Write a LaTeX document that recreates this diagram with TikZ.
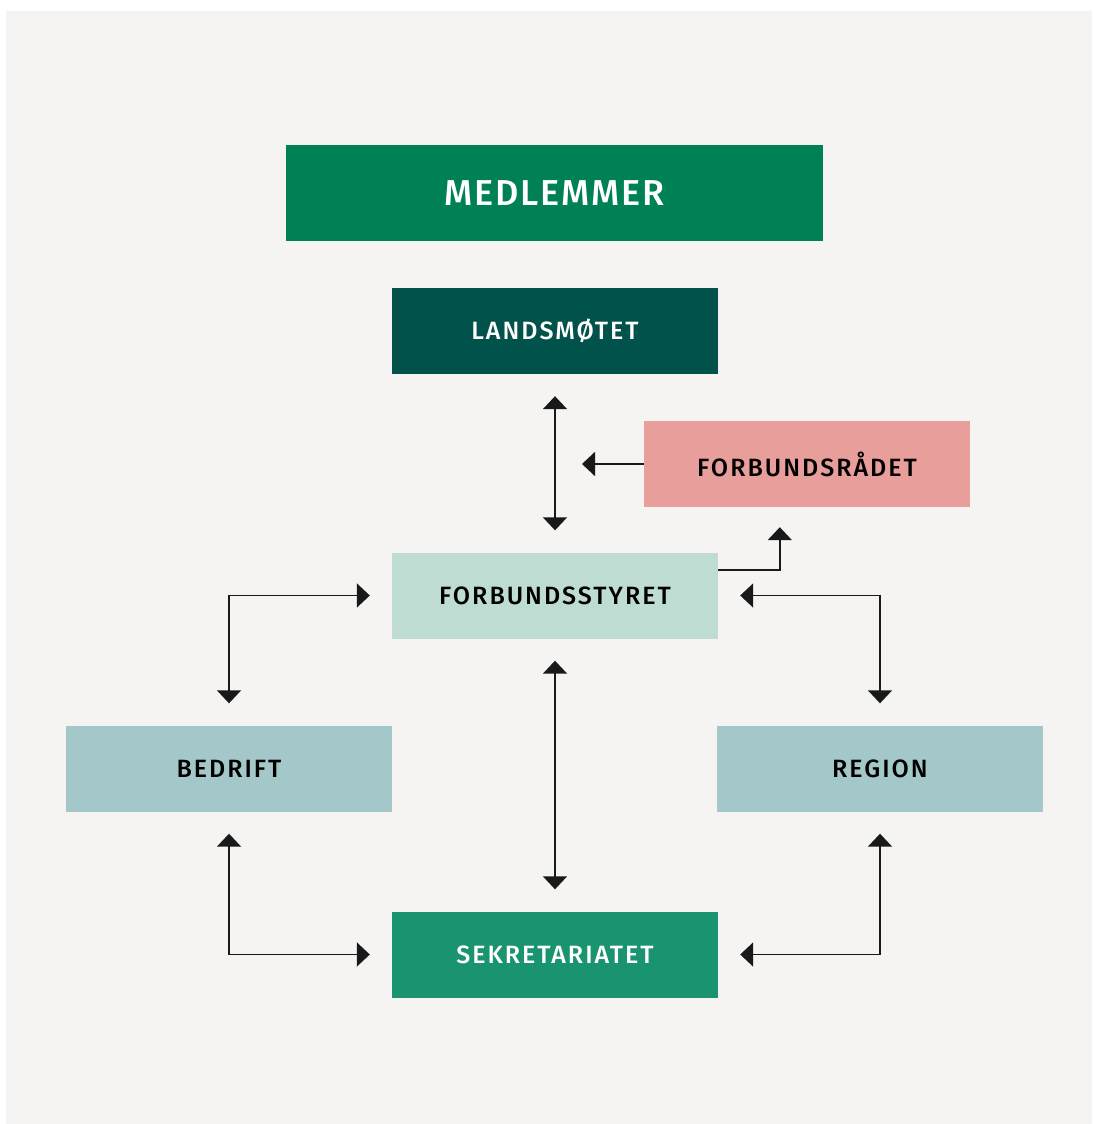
\documentclass[tikz,border=0pt]{standalone}
\usepackage{fontspec}
\setmainfont{Fira Sans Medium}[LetterSpace=8]
\usetikzlibrary{arrows.meta,calc}
\definecolor{bgcol}{HTML}{F5F4F2}
\definecolor{medcol}{HTML}{008055}
\definecolor{lancol}{HTML}{00524A}
\definecolor{radcol}{HTML}{E89F9B}
\definecolor{stycol}{HTML}{BEDCD2}
\definecolor{orgcol}{HTML}{A4C8C9}
\definecolor{sekcol}{HTML}{1A9470}
\begin{document}
\begin{tikzpicture}[x=1pt, y=-1pt,
  box/.style={minimum width=326pt, minimum height=86pt, inner sep=0pt, font=\fontsize{25}{30}\selectfont},
  arr/.style={line width=1.8pt, draw=black!90, {Triangle[width=24pt,length=13pt]}-{Triangle[width=24pt,length=13pt]}, shorten <=22pt, shorten >=22pt},
  one/.style={line width=1.8pt, draw=black!90, -{Triangle[width=24pt,length=13pt]}}]
\useasboundingbox (0,0) rectangle (1092,1124);
\fill[bgcol] (6,11) rectangle (1092,1124);
\node[box, fill=medcol, text=white, minimum width=537pt, minimum height=96pt, font=\fontsize{36}{42}\selectfont\addfontfeatures{LetterSpace=5}] (med) at (554.5,193){MEDLEMMER};
\node[box, fill=lancol, text=white] (lan) at (555,331){LANDSMØTET};
\node[box, fill=radcol] (rad) at (807,464){FORBUNDSRÅDET};
\node[box, fill=stycol] (sty) at (555,595.5){FORBUNDSSTYRET};
\node[box, fill=orgcol] (bed) at (229,768.5){BEDRIFT};
\node[box, fill=orgcol] (reg) at (880,768.5){REGION};
\node[box, fill=sekcol, text=white] (sek) at (555,954.5){SEKRETARIATET};
\coordinate (radtip) at (582,464);
\coordinate (stytip) at ($(rad.south west)+(136,0)$);
\draw[arr] (lan.south) -- (sty.north);
\draw[one] (rad.west) -- (radtip);
\draw[one, shorten >=20pt] ([yshift=25.5pt]sty.east) -| (stytip);
\draw[arr] (sty.west) -| (bed.north);
\draw[arr] (sty.east) -| (reg.north);
\draw[arr] (sty.south) -- (sek.north);
\draw[arr] (bed.south) |- (sek.west);
\draw[arr] (reg.south) |- (sek.east);
\end{tikzpicture}
\end{document}
